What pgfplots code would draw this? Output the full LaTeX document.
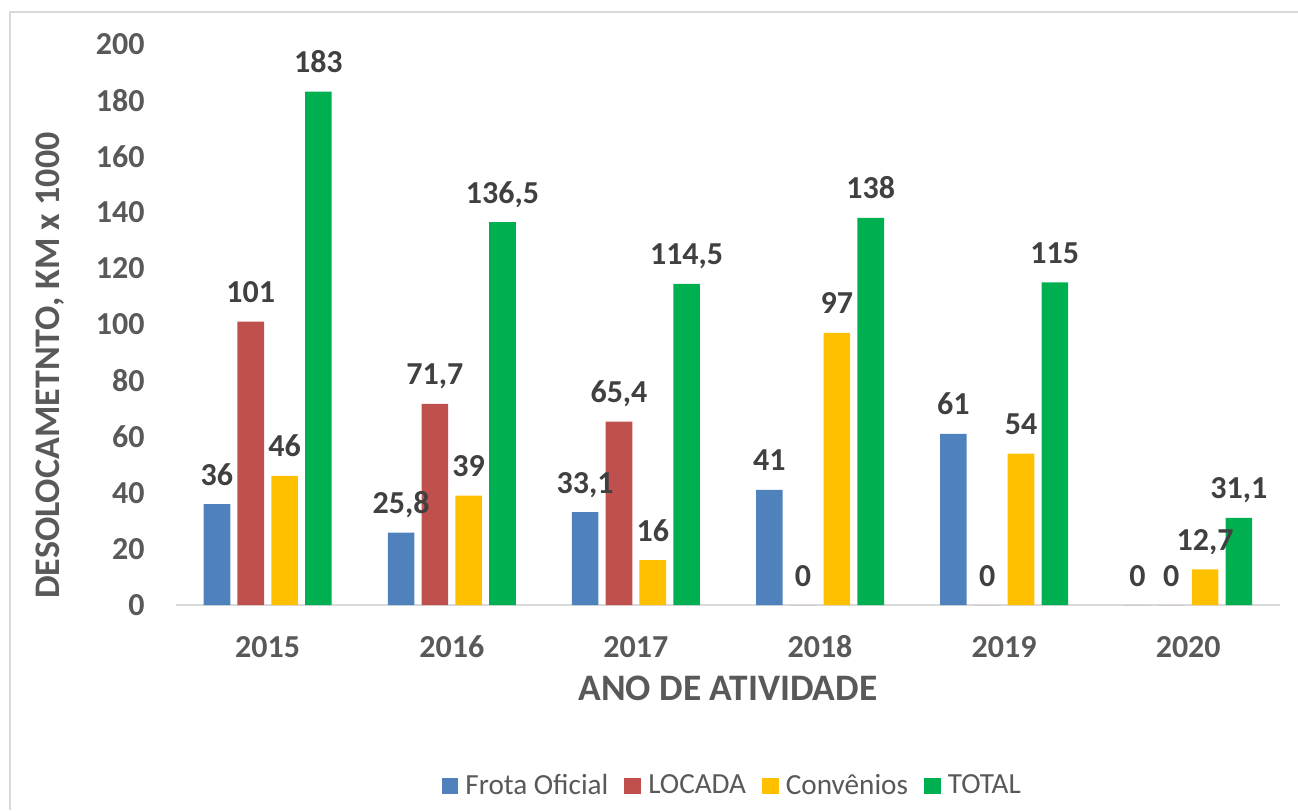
\documentclass[border=0pt]{standalone}
\usepackage{fontspec}
\setmainfont{Carlito}
\usepackage{pgfplots}
\pgfplotsset{compat=1.18}
\definecolor{frota}{HTML}{4F81BD}
\definecolor{locada}{HTML}{C0504D}
\definecolor{convenios}{HTML}{FFC000}
\definecolor{total}{HTML}{00B050}
\definecolor{tickgray}{HTML}{595959}
\definecolor{labelgray}{HTML}{404040}
\definecolor{framegray}{HTML}{D9D9D9}

\begin{document}
\begin{tikzpicture}
\useasboundingbox (0,0) rectangle (649pt,405pt);
% moldura do grafico (so topo e esquerda aparecem)
\draw[framegray, line width=0.8pt] (5pt,0) -- (5pt,399pt) -- (649pt,399pt);
\begin{axis}[
    at={(87.8pt,102.5pt)}, anchor=south west,
    scale only axis,
    width=552.35pt, height=280.5pt,
    ybar=3.6pt, bar width=13.3pt,
    xmin=-0.5, xmax=5.5,
    ymin=0, ymax=200,
    xtick={0,...,5},
    xticklabels={2015,2016,2017,2018,2019,2020},
    ytick={0,20,...,200},
    axis x line*=bottom,
    axis y line*=left,
    x axis line style={draw=framegray, line width=1pt},
    y axis line style={draw=none},
    tick style={draw=none},
    major tick length=0pt,
    clip=false,
    /pgf/number format/assume math mode=true,
    ticklabel style={font=\bfseries\fontsize{16}{16}\selectfont, text=tickgray, inner sep=0pt},
    yticklabel style={anchor=east, xshift=-15.3pt},
    xticklabel style={anchor=base, yshift=-26pt},
    xlabel={ANO DE ATIVIDADE},
    xlabel style={at={(axis description cs:0.5,0)}, anchor=base, yshift=-47.5pt,
        font=\bfseries\fontsize{18.7}{18.7}\selectfont, text=tickgray, inner sep=0pt},
    ylabel={DESOLOCAMETNTO, KM x 1000},
    ylabel style={at={(axis description cs:-0.1132,0.4266)}, anchor=center,
        font=\bfseries\fontsize{18}{18}\selectfont, text=tickgray, inner sep=0pt},
    nodes near coords={\pgfmathprintnumber[use comma,fixed,precision=1]{\pgfplotspointmeta}},
    nodes near coords style={font=\bfseries\fontsize{16}{16}\selectfont, text=labelgray,
        anchor=base, inner sep=0pt, yshift=9.5pt},
    legend columns=4,
    legend style={at={(axis description cs:0.503,-0.3226)}, anchor=center, draw=none,
        font=\fontsize{14.6}{14.6}\selectfont, text=tickgray,
        nodes={inner sep=0pt},
        /tikz/every odd column/.append style={column sep=3.5pt},
        /tikz/every even column/.append style={column sep=8pt}},
    legend image code/.code={\fill[#1] (0pt,-4.2pt) rectangle (8.4pt,4.2pt);},
]
\addplot[fill=frota, draw=none] coordinates {(0,36) (1,25.8) (2,33.1) (3,41) (4,61) (5,0)};
\addplot[fill=locada, draw=none] coordinates {(0,101) (1,71.7) (2,65.4) (3,0) (4,0) (5,0)};
\addplot[fill=convenios, draw=none] coordinates {(0,46) (1,39) (2,16) (3,97) (4,54) (5,12.7)};
\addplot[fill=total, draw=none] coordinates {(0,183) (1,136.5) (2,114.5) (3,138) (4,115) (5,31.1)};
\legend{Frota Oficial, LOCADA, Convênios, TOTAL}
\end{axis}
\end{tikzpicture}
\end{document}
